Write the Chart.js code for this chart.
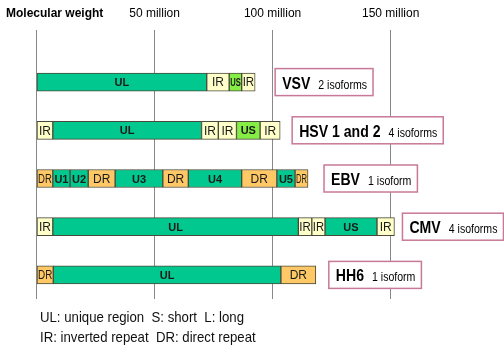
<!DOCTYPE html>
<html>
<head>
<meta charset="utf-8">
<script src="https://cdn.jsdelivr.net/npm/chart.js@4/dist/chart.umd.min.js"></script>
<style>
html, body { margin: 0; padding: 0; background: #fff; }
canvas { display: block; }
</style>
</head>
<body>
<canvas id="chart" width="504" height="349"></canvas>
<script>
// 数据
const viruses = ['VSV', 'HSV 1 and 2', 'EBV', 'CMV', 'HH6'];
const isoforms = ['2 isoforms', '4 isoforms', '1 isoform', '4 isoforms', '1 isoform'];
const xTicks = [0, 50, 100, 150];
const tickLabels = ['', '50 million', '100 million', '150 million'];

// segments in millions, left to right
const vsvNames = ['UL', 'IR', 'US', 'IR'];
const vsvSizes = [72.1, 9.5, 5.3, 5.7];
const vsvKinds = ['unique', 'inverted', 'short', 'inverted'];

const hsvNames = ['IR', 'UL', 'IR', 'IR', 'US', 'IR'];
const hsvSizes = [6.9, 63.0, 7.1, 7.7, 10.0, 8.5];
const hsvKinds = ['inverted', 'unique', 'inverted', 'inverted', 'short', 'inverted'];

const ebvNames = ['DR', 'U1', 'U2', 'DR', 'U3', 'DR', 'U4', 'DR', 'U5', 'DR'];
const ebvSizes = [6.9, 7.3, 7.7, 11.4, 20.2, 10.8, 22.6, 14.9, 7.7, 5.5];
const ebvKinds = ['direct', 'unique', 'unique', 'direct', 'unique', 'direct', 'unique', 'direct', 'unique', 'direct'];

const cmvNames = ['IR', 'UL', 'IR', 'IR', 'US', 'IR'];
const cmvSizes = [6.9, 104.0, 5.7, 5.6, 22.0, 7.4];
const cmvKinds = ['inverted', 'unique', 'inverted', 'inverted', 'unique', 'inverted'];

const hh6Names = ['DR', 'UL', 'DR'];
const hh6Sizes = [7.1, 96.4, 14.8];
const hh6Kinds = ['direct', 'unique', 'direct'];

const footLines = ['UL: unique region  S: short  L: long', 'IR: inverted repeat  DR: direct repeat'];

const segNames = [vsvNames, hsvNames, ebvNames, cmvNames, hh6Names];
const segSizes = [vsvSizes, hsvSizes, ebvSizes, cmvSizes, hh6Sizes];
const segKinds = [vsvKinds, hsvKinds, ebvKinds, cmvKinds, hh6Kinds];

const palette = {
    unique: '#00c88e',
    short: '#84ee44',
    inverted: '#ffffca',
    direct: '#ffc866'
};

const FONT = '"Liberation Sans", Arial, sans-serif';
const SQUEEZE = 0.88;

// 构建数据集
const slots = Math.max(...segSizes.map(s => s.length));
const datasets = [];
for (let s = 0; s < slots; s++) {
    datasets.push({
        data: viruses.map((v, k) => segSizes[k][s] ?? null),
        backgroundColor: viruses.map((v, k) => palette[segKinds[k][s]] || 'transparent'),
        borderColor: '#4a4a3a',
        borderWidth: 1,
        borderSkipped: false,
        barThickness: 18
    });
}

function squeezedText(ctx, text, x, y, sx) {
    ctx.save();
    ctx.translate(x, y);
    ctx.scale(sx, 1);
    ctx.fillText(text, 0, 0);
    ctx.restore();
}

const decorations = {
    id: 'decorations',
    afterDatasetsDraw(chart) {
        const ctx = chart.ctx;
        ctx.save();
        ctx.textBaseline = 'middle';
        ctx.textAlign = 'center';
        datasets.forEach((ds, s) => {
            const meta = chart.getDatasetMeta(s);
            meta.data.forEach((el, k) => {
                const name = segNames[k][s];
                if (!name) return;
                const x0 = Math.min(el.x, el.base);
                const x1 = Math.max(el.x, el.base);
                const bold = name[0] === 'U';
                ctx.font = (bold ? 'bold 11px ' : '12px ') + FONT;
                ctx.fillStyle = '#1a1a1a';
                ctx.fillText(name, (x0 + x1) / 2, el.y + 1, x1 - x0 - 2);
            });
        });
        ctx.restore();
    },
    afterDraw(chart, args, opts) {
        const ctx = chart.ctx;
        const xs = chart.scales.x;
        const ys = chart.scales.y;
        ctx.save();

        // 左上角标题
        ctx.fillStyle = '#000';
        ctx.textAlign = 'left';
        ctx.textBaseline = 'middle';
        ctx.font = 'bold 12px ' + FONT;
        ctx.fillText('Molecular weight', 6, 14);

        // 病毒标签框
        viruses.forEach((v, k) => {
            const total = segSizes[k].reduce((a, b) => a + b, 0);
            const left = xs.getPixelForValue(total) + opts.gaps[k];
            const cy = ys.getPixelForValue(k);
            ctx.font = 'bold 16px ' + FONT;
            const nameW = ctx.measureText(v).width * SQUEEZE;
            ctx.font = '12px ' + FONT;
            const isoW = ctx.measureText(isoforms[k]).width * SQUEEZE;
            const w = 7 + nameW + 8 + isoW + 6;
            const h = 27;
            ctx.fillStyle = '#fff';
            ctx.fillRect(left, cy - h / 2, w, h);
            ctx.strokeStyle = '#c87898';
            ctx.lineWidth = 1.5;
            ctx.strokeRect(left, cy - h / 2, w, h);
            ctx.fillStyle = '#000';
            ctx.textBaseline = 'alphabetic';
            ctx.font = 'bold 16px ' + FONT;
            squeezedText(ctx, v, left + 7, cy + 6.5, SQUEEZE);
            ctx.font = '12px ' + FONT;
            squeezedText(ctx, isoforms[k], left + 7 + nameW + 8, cy + 6.5, SQUEEZE);
        });

        // 图例说明
        ctx.fillStyle = '#111';
        ctx.textBaseline = 'alphabetic';
        ctx.font = '15px ' + FONT;
        squeezedText(ctx, footLines[0], 40, 322, SQUEEZE);
        squeezedText(ctx, footLines[1], 40, 342, SQUEEZE);
        ctx.restore();
    }
};

new Chart(document.getElementById('chart').getContext('2d'), {
    type: 'bar',
    data: { labels: viruses, datasets },
    options: {
        indexAxis: 'y',
        responsive: false,
        animation: false,
        layout: { padding: { left: 36.5, right: 0, top: 0, bottom: 50 } },
        plugins: {
            legend: { display: false },
            tooltip: { enabled: false },
            decorations: { gaps: [20, 12, 16, 8, 13] }
        },
        scales: {
            x: {
                type: 'linear',
                position: 'top',
                min: 0,
                max: 198,
                stacked: true,
                afterBuildTicks: scale => { scale.ticks = xTicks.map(v => ({ value: v })); },
                afterFit: scale => { scale.height = 58; },
                ticks: {
                    callback: value => tickLabels[xTicks.indexOf(value)],
                    font: { family: FONT, size: 12 },
                    color: '#000',
                    padding: 9,
                    maxRotation: 0,
                    autoSkip: false
                },
                grid: { color: '#888', lineWidth: 1, tickLength: 28 },
                border: { display: false }
            },
            y: {
                type: 'category',
                stacked: true,
                display: false
            }
        }
    },
    plugins: [decorations]
});
</script>
</body>
</html>
